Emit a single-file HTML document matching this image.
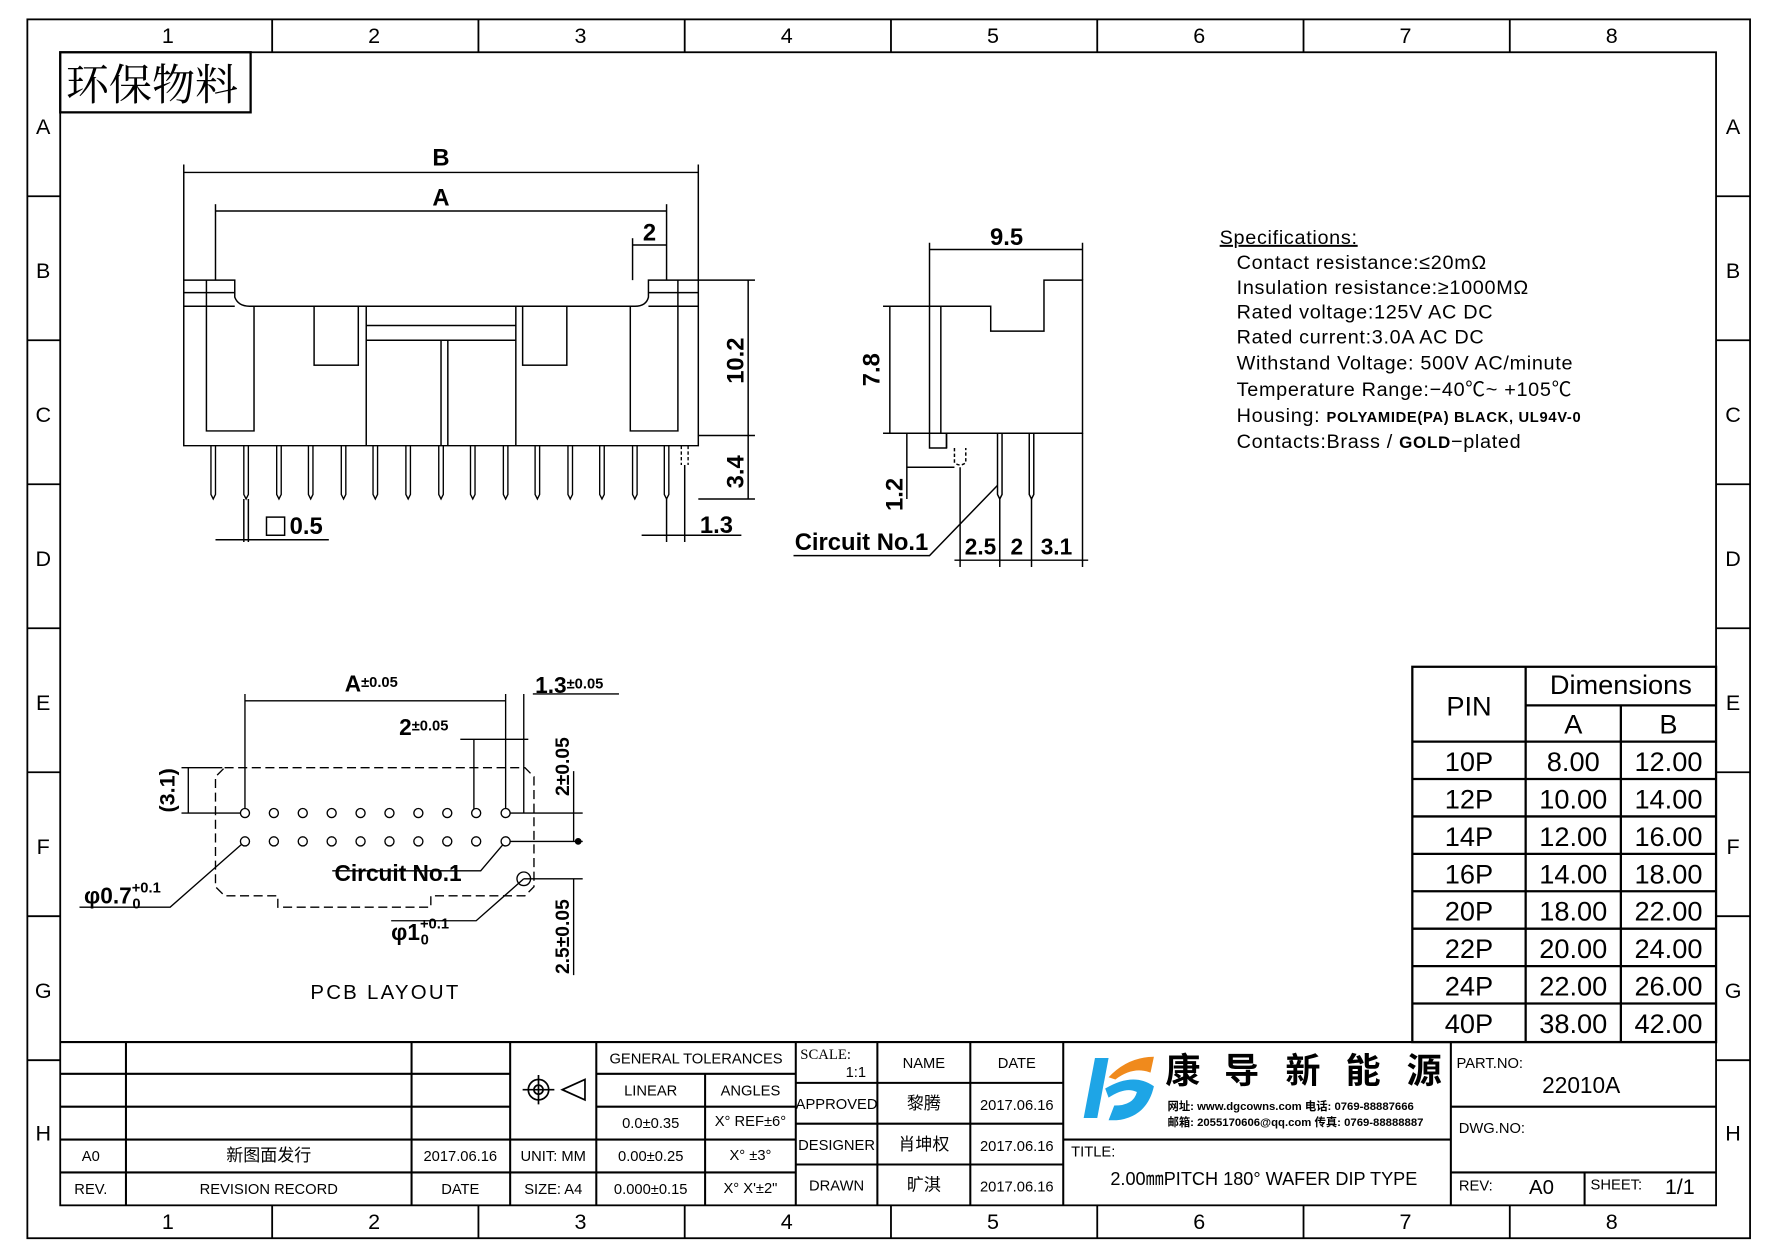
<!DOCTYPE html>
<html><head><meta charset="utf-8"><style>
html,body{margin:0;padding:0;background:#fff;}
svg{display:block;}
text{font-family:"Liberation Sans","Noto Sans CJK SC",sans-serif;fill:#000;}
.s{font-family:"Liberation Serif","Noto Serif CJK SC",serif;}
</style></head><body>
<svg width="1778" height="1257" viewBox="0 0 1560 1103" preserveAspectRatio="none" xmlns="http://www.w3.org/2000/svg">
<rect width="1560" height="1103" fill="#fff"/>
<g transform="translate(24 17) scale(0.9944 0.9949) translate(-24 -17)">
<g fill="none" stroke="#000" stroke-width="1.6">
<rect x="24" y="17" width="1520" height="1075"/>
<rect x="53" y="46" width="1461" height="1017"/>
<path d="M240 17V46M422 17V46M604 17V46M786 17V46M968 17V46M1150 17V46M1332 17V46"/>
<path d="M240 1063V1092M422 1063V1092M604 1063V1092M786 1063V1092M968 1063V1092M1150 1063V1092M1332 1063V1092"/>
<path d="M24 173H53M24 300H53M24 427H53M24 554H53M24 681H53M24 808H53M24 935H53"/>
<path d="M1514 173H1544M1514 300H1544M1514 427H1544M1514 554H1544M1514 681H1544M1514 808H1544M1514 935H1544"/>
</g>
<g font-size="19" text-anchor="middle">
<text x="148" y="38">1</text><text x="330" y="38">2</text><text x="512" y="38">3</text><text x="694" y="38">4</text><text x="876" y="38">5</text><text x="1058" y="38">6</text><text x="1240" y="38">7</text><text x="1422" y="38">8</text>
<text x="148" y="1084">1</text><text x="330" y="1084">2</text><text x="512" y="1084">3</text><text x="694" y="1084">4</text><text x="876" y="1084">5</text><text x="1058" y="1084">6</text><text x="1240" y="1084">7</text><text x="1422" y="1084">8</text>
<text x="38" y="118">A</text><text x="38" y="245">B</text><text x="38" y="372">C</text><text x="38" y="499">D</text><text x="38" y="626">E</text><text x="38" y="753">F</text><text x="38" y="880">G</text><text x="38" y="1006">H</text>
<text x="1529" y="118">A</text><text x="1529" y="245">B</text><text x="1529" y="372">C</text><text x="1529" y="499">D</text><text x="1529" y="626">E</text><text x="1529" y="753">F</text><text x="1529" y="880">G</text><text x="1529" y="1006">H</text>
</g>
<rect x="53" y="46" width="168" height="53" fill="none" stroke="#000" stroke-width="2"/>
<text x="58" y="88" font-size="38" class="s">环保物料</text>

<g fill="none" stroke="#000" stroke-width="1.3">
<line x1="162" y1="152" x2="616" y2="152"/><line x1="162" y1="145" x2="162" y2="247"/><line x1="616" y1="145" x2="616" y2="247"/>
<line x1="190" y1="186" x2="588" y2="186"/><line x1="190" y1="180" x2="190" y2="247"/><line x1="588" y1="180" x2="588" y2="247"/>
<line x1="558" y1="216" x2="588" y2="216"/><line x1="558" y1="210" x2="558" y2="247"/>
<path d="M162 247H207V262Q210 270 220 270H560Q570 270 572 262V247H616V393H162Z"/>
<path d="M162 270H207M572 270H616M162 258H207M572 258H616"/>
<path d="M182 247V380H224V270M556 270V380H598V247"/>
<rect x="277" y="270" width="39" height="52"/><rect x="461" y="270" width="39" height="52"/>
<path d="M323 270V393M455 270V393M389 300V393M395 300V393M323 287H455M323 300H455"/>
<g stroke-width="1.2">
<path d="M186 393V436L188 440L190 436V393M215 393V436L217 440L219 436V393M244 393V436L246 440L248 436V393M272 393V436L274 440L276 436V393M301 393V436L303 440L305 436V393M329 393V436L331 440L333 436V393M358 393V436L360 440L362 436V393M387 393V436L389 440L391 436V393M415 393V436L417 440L419 436V393M444 393V436L446 440L448 436V393M472 393V436L474 440L476 436V393M501 393V436L503 440L505 436V393M529 393V436L531 440L533 436V393M558 393V436L560 440L562 436V393M586 393V436L588 440L590 436V393"/>
<path d="M601 393V410M607 393V410" stroke-dasharray="3 2"/>
</g>
<path d="M616 247H666M616 384H666M616 440H666M660 247V440"/>
<path d="M588 440V478M604 410V478M566 472H654"/>
<path d="M215 440V478M219 440V478M190 476H290"/>
<rect x="235" y="456" width="16" height="16"/>
</g>
<g font-size="21" font-weight="bold" text-anchor="middle">
<text x="389" y="146">B</text><text x="389" y="181">A</text><text x="573" y="212">2</text>
<text x="632" y="470">1.3</text><text x="270" y="471">0.5</text>
</g>
<text transform="translate(656 318) rotate(-90)" font-size="21" font-weight="bold" text-anchor="middle">10.2</text>
<text transform="translate(656 416) rotate(-90)" font-size="21" font-weight="bold" text-anchor="middle">3.4</text>

<g fill="none" stroke="#000" stroke-width="1.3">
<path d="M820 220H955M820 214V270M955 214V247"/>
<path d="M820 270H874V292H921V247H955V382H835V395H820Z"/>
<path d="M830 270V382M835 382V395"/>
<path d="M779 270H820M779 382H835M785 270V382"/>
<path d="M800 382V440M800 412H842"/>
<path d="M842 395V408Q847 412 852 408V395" stroke-dasharray="3 2"/>
<path d="M880 382V436L882 440L884 436V382M908 382V436L910 440L912 436V382"/>
<path d="M847 412V500M882 440V500M910 440V500M955 382V500M842 494H960"/>
<path d="M700 490H820L880 428"/>
</g>
<text x="888" y="216" font-size="21" font-weight="bold" text-anchor="middle">9.5</text>
<text transform="translate(776 326) rotate(-90)" font-size="21" font-weight="bold" text-anchor="middle">7.8</text>
<text transform="translate(796 436) rotate(-90)" font-size="21" font-weight="bold" text-anchor="middle">1.2</text>
<text x="760" y="485" font-size="21" font-weight="bold" text-anchor="middle">Circuit No.1</text>
<g font-size="20" font-weight="bold" text-anchor="middle"><text x="865" y="489">2.5</text><text x="897" y="489">2</text><text x="932" y="489">3.1</text></g>

<g font-size="17.5" letter-spacing="0.6">
<text x="1076" y="215" text-decoration="underline">Specifications:</text>
<text x="1091" y="237">Contact  resistance:≤20mΩ</text>
<text x="1091" y="259">Insulation  resistance:≥1000MΩ</text>
<text x="1091" y="281">Rated  voltage:125V  AC  DC</text>
<text x="1091" y="303">Rated  current:3.0A  AC  DC</text>
<text x="1091" y="326">Withstand  Voltage: 500V  AC/minute</text>
<text x="1091" y="349">Temperature  Range:−40℃~  +105℃</text>
<text x="1091" y="372">Housing: <tspan font-size="13" font-weight="bold">POLYAMIDE(PA) BLACK, UL94V-0</tspan></text>
<text x="1091" y="395">Contacts:Brass   / <tspan font-weight="bold" font-size="15">GOLD</tspan>−plated</text>
</g>

<g fill="none" stroke="#000" stroke-width="1.2">
<path d="M198 677H463L471 685V782L463 790H380V800H245V790H198L190 782V685Z" stroke-dasharray="8 4"/>
<path d="M216 612V717M446 612V717M462 612V717M216 618H446M418 652V717M446 652H462M406 652H466M470 612H546"/>
<path d="M160 677H196M160 717H216M166 677V717"/>
<path d="M446 717H514M446 742H514M462 775H514M506 680V742M506 775V860"/>
<path d="M216 742L150 800H70M446 742L424 768H293M462 775L420 812H345"/>
<circle cx="462" cy="775" r="6"/>
</g>
<circle cx="510" cy="742" r="3"/>
<g fill="#fff" stroke="#000" stroke-width="1.2">
<circle cx="216" cy="717" r="4"/><circle cx="241.5" cy="717" r="4"/><circle cx="267" cy="717" r="4"/><circle cx="292.5" cy="717" r="4"/><circle cx="318" cy="717" r="4"/><circle cx="343.5" cy="717" r="4"/><circle cx="369" cy="717" r="4"/><circle cx="394.5" cy="717" r="4"/><circle cx="420" cy="717" r="4"/><circle cx="446" cy="717" r="4"/>
<circle cx="216" cy="742" r="4"/><circle cx="241.5" cy="742" r="4"/><circle cx="267" cy="742" r="4"/><circle cx="292.5" cy="742" r="4"/><circle cx="318" cy="742" r="4"/><circle cx="343.5" cy="742" r="4"/><circle cx="369" cy="742" r="4"/><circle cx="394.5" cy="742" r="4"/><circle cx="420" cy="742" r="4"/><circle cx="446" cy="742" r="4"/>
</g>
<g font-weight="bold">
<text x="304" y="610" font-size="20">A<tspan font-size="13" dy="-4">±0.05</tspan></text>
<text x="472" y="611" font-size="20">1.3<tspan font-size="13" dy="-4">±0.05</tspan></text>
<text x="352" y="648" font-size="20">2<tspan font-size="13" dy="-4">±0.05</tspan></text>
<text x="295" y="777" font-size="20">Circuit No.1</text>
<text x="74" y="797" font-size="20">φ0.7<tspan font-size="13" dy="-10">+0.1</tspan><tspan font-size="13" dx="-25" dy="14">0</tspan></text>
<text x="345" y="829" font-size="20">φ1<tspan font-size="13" dy="-10">+0.1</tspan><tspan font-size="13" dx="-25" dy="14">0</tspan></text>
</g>
<text transform="translate(154 697) rotate(-90)" font-size="19" font-weight="bold" text-anchor="middle">(3.1)</text>
<text transform="translate(502 676) rotate(-90)" font-size="17" font-weight="bold" text-anchor="middle">2±0.05</text>
<text transform="translate(502 826) rotate(-90)" font-size="17" font-weight="bold" text-anchor="middle">2.5±0.05</text>
<text x="340" y="881" font-size="18" text-anchor="middle" letter-spacing="2">PCB LAYOUT</text>

<g fill="none" stroke="#000" stroke-width="2">
<rect x="1246" y="588" width="268" height="331"/>
<path d="M1346 588V919M1430 622V919M1346 622H1514M1246 654H1514M1246 687H1514M1246 720H1514M1246 753H1514M1246 786H1514M1246 819H1514M1246 852H1514M1246 885H1514"/>
</g>
<g font-size="24" text-anchor="middle">
<text x="1296" y="631">PIN</text><text x="1430" y="612">Dimensions</text><text x="1388" y="647">A</text><text x="1472" y="647">B</text>
<text x="1296" y="680">10P</text><text x="1388" y="680">8.00</text><text x="1472" y="680">12.00</text>
<text x="1296" y="713">12P</text><text x="1388" y="713">10.00</text><text x="1472" y="713">14.00</text>
<text x="1296" y="746">14P</text><text x="1388" y="746">12.00</text><text x="1472" y="746">16.00</text>
<text x="1296" y="779">16P</text><text x="1388" y="779">14.00</text><text x="1472" y="779">18.00</text>
<text x="1296" y="812">20P</text><text x="1388" y="812">18.00</text><text x="1472" y="812">22.00</text>
<text x="1296" y="845">22P</text><text x="1388" y="845">20.00</text><text x="1472" y="845">24.00</text>
<text x="1296" y="878">24P</text><text x="1388" y="878">22.00</text><text x="1472" y="878">26.00</text>
<text x="1296" y="911">40P</text><text x="1388" y="911">38.00</text><text x="1472" y="911">42.00</text>
</g>

<g fill="none" stroke="#000" stroke-width="1.8">
<path d="M53 919H1514"/>
<path d="M53 947H450M53 976H450M53 1005H702M53 1034H702M111 919V1063M363 919V1063M450 919V1063M526 919V1063"/>
<path d="M526 947H702M526 976H702M622 947V1063M702 919V1063"/>
<path d="M702 955H938M702 991H938M702 1027H938M774 919V1063M856 919V1063M938 919V1063"/>
<path d="M938 1005H1280M1280 919V1063M1280 976H1514M1280 1034H1514M1398 1034V1063"/>
</g>
<g class="s" font-size="13" text-anchor="middle">
<text x="80" y="1024">A0</text><text x="237" y="1024" font-size="15">新图面发行</text><text x="406" y="1024">2017.06.16</text>
<text x="80" y="1053">REV.</text><text x="237" y="1053">REVISION RECORD</text><text x="406" y="1053">DATE</text>
<text x="488" y="1024">UNIT: MM</text><text x="488" y="1053">SIZE: A4</text>
<text x="614" y="938">GENERAL TOLERANCES</text>
<text x="574" y="966">LINEAR</text><text x="662" y="966">ANGLES</text>
<text x="574" y="995">0.0±0.35</text><text x="662" y="993">X° REF±6°</text>
<text x="574" y="1024">0.00±0.25</text><text x="662" y="1023">X° ±3°</text>
<text x="574" y="1053">0.000±0.15</text><text x="662" y="1052">X° X'±2"</text>
<text x="755" y="950">1:1</text>
<text x="738" y="978">APPROVED</text><text x="738" y="1014">DESIGNER</text><text x="738" y="1050">DRAWN</text>
<text x="815" y="942">NAME</text><text x="897" y="942">DATE</text>
<text x="815" y="978" font-size="15">黎腾</text><text x="897" y="979">2017.06.16</text>
<text x="815" y="1014" font-size="15">肖坤权</text><text x="897" y="1015">2017.06.16</text>
<text x="815" y="1050" font-size="15">旷淇</text><text x="897" y="1051">2017.06.16</text>
<text x="945" y="1020" text-anchor="start">TITLE:</text>
<text x="1115" y="1045" font-size="16">2.00㎜PITCH 180° WAFER DIP TYPE</text>
<text x="1285" y="942" text-anchor="start">PART.NO:</text>
<text x="1395" y="964" font-size="20">22010A</text>
<text x="1287" y="999" text-anchor="start">DWG.NO:</text>
<text x="1302" y="1050">REV:</text><text x="1360" y="1053" font-size="18">A0</text>
<text x="1426" y="1049">SHEET:</text><text x="1482" y="1053" font-size="19">1/1</text>
</g>
<text x="706" y="934" class="s" font-size="13">SCALE:</text>
<g fill="none" stroke="#000" stroke-width="1.5">
<circle cx="475" cy="961" r="9"/><circle cx="475" cy="961" r="4"/><path d="M461 961H489M475 948V974M496 961L516 952V970Z"/>
</g>
<path d="M966 933L978 933L968 986L956 986Z" fill="#1ea5e6"/>
<path d="M975 960Q1000 945 1018 958Q1012 985 985 988L978 988L983 975Q1000 975 1003 963Q993 958 978 968Z" fill="#1ea5e6"/>
<path d="M978 950Q995 932 1018 932L1015 946Q1000 940 984 952Z" fill="#f08a1c"/>
<g font-size="31" font-weight="bold"><text x="1028" y="955">康</text><text x="1080" y="955">导</text><text x="1134" y="955">新</text><text x="1187" y="955">能</text><text x="1241" y="955">源</text></g>
<g font-size="10" font-weight="bold"><text x="1030" y="979">网址: www.dgcowns.com  电话: 0769-88887666</text><text x="1030" y="993">邮箱: 2055170606@qq.com 传真: 0769-88888887</text></g>
</g>
</svg>
</body></html>
